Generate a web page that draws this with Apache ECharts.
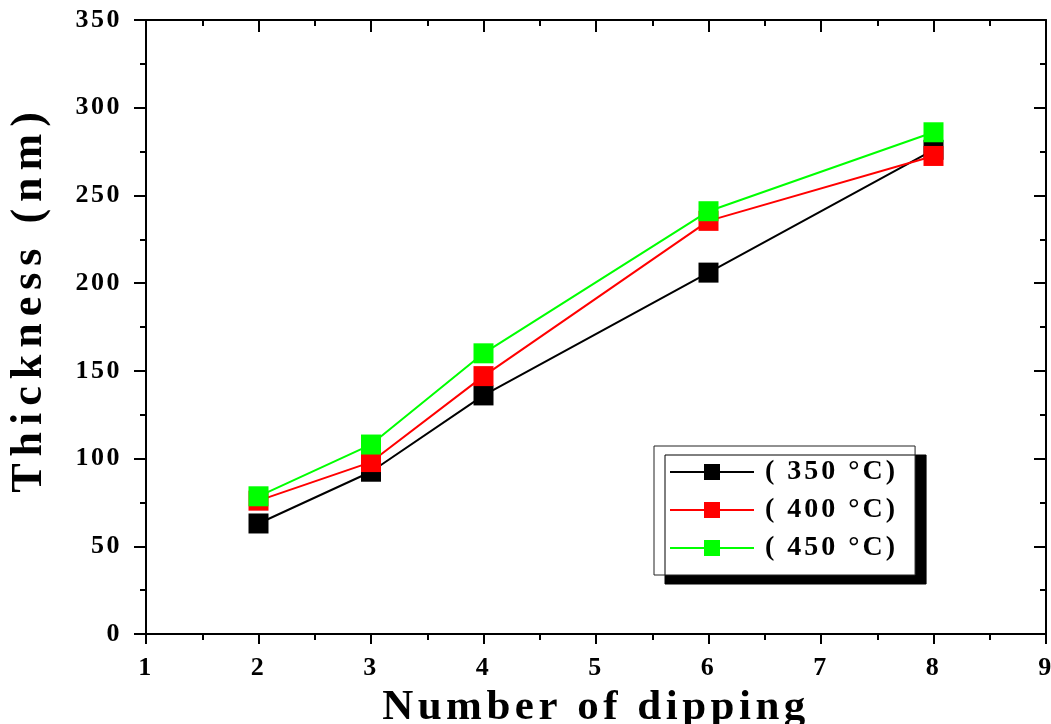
<!DOCTYPE html>
<html>
<head>
<meta charset="utf-8">
<script src="https://cdn.jsdelivr.net/npm/echarts@6/dist/echarts.min.js"></script>
<style>
html,body{margin:0;padding:0;background:#fff;}
#chart{width:1051px;height:724px;}
</style>
</head>
<body>
<div id="chart"></div>
<script>
// ---- data ----
const dippings = [2, 3, 4, 6, 8];
const thick350 = [63, 92.5, 136, 206, 276];
const thick400 = [76, 98, 147, 235.5, 272.5];
const thick450 = [78.5, 108, 160, 241, 286];
const seriesNames = ['( 350 °C)', '( 400 °C)', '( 450 °C)'];
const xTitle = 'Number of dipping';
const yTitle = 'Thickness (nm)';

// letter spacing for the wide-set serif text of the original
(function () {
  const P = CanvasRenderingContext2D.prototype;
  const origFill = P.fillText;
  P.fillText = function (t, x, y, m) {
    const f = this.font || '';
    let ls = '0px';
    if (f.indexOf('44px') >= 0) ls = '7px';
    else if (f.indexOf('43px') >= 0) ls = '4.5px';
    else if (f.indexOf('28px') >= 0) ls = '3px';
    else if (f.indexOf('26px') >= 0) ls = '2.5px';
    this.letterSpacing = ls;
    return m === undefined ? origFill.call(this, t, x, y) : origFill.call(this, t, x, y, m);
  };
})();

const pairs = arr => dippings.map((d, i) => [d, arr[i]]);
const FONT = '"Liberation Serif", "Times New Roman", serif';
const axisLine = { show: true, onZero: false, lineStyle: { color: '#000', width: 2 } };

const chart = echarts.init(document.getElementById('chart'));
chart.setOption({
  backgroundColor: '#fff',
  animation: false,
  grid: { left: 146, right: 5, top: 20, bottom: 90, containLabel: false, outerBoundsMode: 'none' },
  xAxis: [{
    type: 'value', min: 1, max: 9, interval: 1, position: 'bottom',
    axisLine: axisLine,
    axisTick: { show: true, inside: false, length: 10, lineStyle: { width: 2, color: '#000' } },
    minorTick: { show: true, splitNumber: 2, length: 6, lineStyle: { width: 2, color: '#000' } },
    splitLine: { show: false },
    axisLabel: { color: '#000', fontFamily: FONT, fontWeight: 'bold', fontSize: 26, margin: 21 },
    name: xTitle, nameLocation: 'middle', nameGap: 37,
    nameTextStyle: { color: '#000', fontFamily: FONT, fontWeight: 'bold', fontSize: 43 }
  }, {
    type: 'value', min: 1, max: 9, interval: 1, position: 'top',
    axisLine: axisLine,
    axisTick: { show: true, inside: true, length: 12, lineStyle: { width: 2, color: '#000' } },
    minorTick: { show: true, splitNumber: 2, length: 6, lineStyle: { width: 2, color: '#000' } },
    splitLine: { show: false },
    axisLabel: { show: false }
  }],
  yAxis: [{
    type: 'value', min: 0, max: 350, interval: 50, position: 'left',
    axisLine: axisLine,
    axisTick: { show: true, inside: false, length: 12, lineStyle: { width: 2, color: '#000' } },
    minorTick: { show: true, splitNumber: 2, length: 6, lineStyle: { width: 2, color: '#000' } },
    splitLine: { show: false },
    axisLabel: { color: '#000', fontFamily: FONT, fontWeight: 'bold', fontSize: 26, margin: 24 },
    name: yTitle, nameLocation: 'middle', nameGap: 94, nameRotate: 90,
    nameTextStyle: { color: '#000', fontFamily: FONT, fontWeight: 'bold', fontSize: 44, padding: [0, 0, 0, 56] }
  }, {
    type: 'value', min: 0, max: 350, interval: 50, position: 'right',
    axisLine: axisLine,
    axisTick: { show: true, inside: true, length: 12, lineStyle: { width: 2, color: '#000' } },
    minorTick: { show: true, splitNumber: 2, length: 6, lineStyle: { width: 2, color: '#000' } },
    splitLine: { show: false },
    axisLabel: { show: false }
  }],
  legend: {
    left: 654, top: 446, orient: 'vertical',
    padding: [12, 44, 13, 15],
    itemGap: 10, itemWidth: 84, itemHeight: 20,
    backgroundColor: '#fff', borderColor: '#222', borderWidth: 1,
    shadowColor: '#000', shadowBlur: 0, shadowOffsetX: 11, shadowOffsetY: 9,
    textStyle: { color: '#000', fontFamily: FONT, fontWeight: 'bold', fontSize: 28, padding: [0, 0, 0, 6] },
    data: seriesNames
  },
  series: [
    { name: seriesNames[0], type: 'line', data: pairs(thick350), symbol: 'rect', symbolSize: 20,
      color: '#000000', lineStyle: { width: 2, color: '#000000' }, itemStyle: { color: '#000000' }, z: 2 },
    { name: seriesNames[1], type: 'line', data: pairs(thick400), symbol: 'rect', symbolSize: 20,
      color: '#ff0000', lineStyle: { width: 2, color: '#ff0000' }, itemStyle: { color: '#ff0000' }, z: 3 },
    { name: seriesNames[2], type: 'line', data: pairs(thick450), symbol: 'rect', symbolSize: 20,
      color: '#00ff00', lineStyle: { width: 2, color: '#00ff00' }, itemStyle: { color: '#00ff00' }, z: 4 }
  ]
});
</script>
</body>
</html>
